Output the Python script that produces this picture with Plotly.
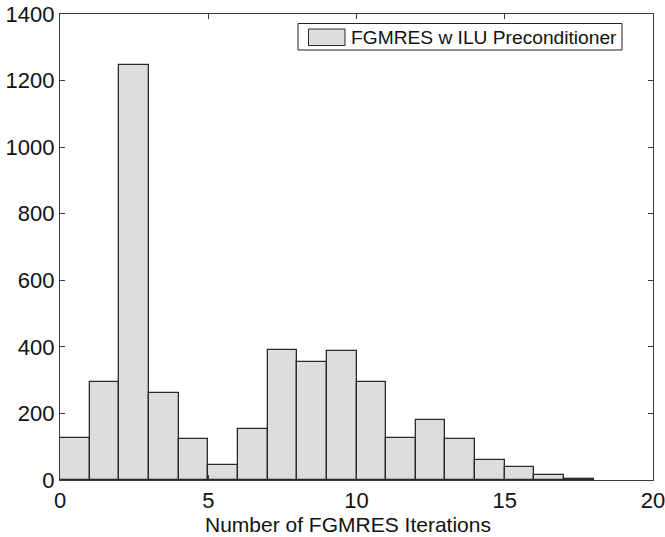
import plotly.graph_objects as go

bin_left = list(range(18))
counts = [126, 295, 1247, 262, 124, 46, 154, 391, 354, 388, 293, 127, 180, 123, 59, 38, 15, 3]
x_ticks = [0, 5, 10, 15, 20]
y_ticks = [0, 200, 400, 600, 800, 1000, 1200, 1400]
legend_label = "FGMRES w ILU Preconditioner"
x_title = "Number of FGMRES Iterations"

FONT = "Liberation Sans, Arial, Helvetica, sans-serif"
AX = "#3a3a3a"

# plot area in pixels: x 60..653, y 14..480
PL, PR, PT, PB = 60, 653, 14, 480
def px(X):
    return (X - PL) / (PR - PL)
def py(Y):
    return (PB - Y) / (PB - PT)

fig = go.Figure()
fig.add_trace(go.Bar(
    x=[b + 0.5 for b in bin_left], y=counts, width=1,
    marker=dict(color="#dddddd", line=dict(color="#2a2a2a", width=1.3)),
    name=legend_label, showlegend=False,
))

fig.update_layout(
    width=665, height=537,
    margin=dict(l=PL, r=665 - PR, t=PT, b=537 - PB),
    paper_bgcolor="white", plot_bgcolor="white",
    font=dict(family=FONT, size=20, color="#111"),
    bargap=0,
    xaxis=dict(range=[0, 20], tickvals=x_ticks, ticks="inside", ticklen=5, tickcolor=AX,
               showline=True, linecolor=AX, linewidth=1.3, mirror="ticks", showgrid=False,
               zeroline=False, tickfont=dict(size=22), automargin=False,
               ticklabeloverflow="allow"),
    yaxis=dict(range=[0, 1400], tickvals=y_ticks, ticks="inside", ticklen=5, tickcolor=AX,
               showline=True, linecolor=AX, linewidth=1.3, mirror="ticks", showgrid=False,
               zeroline=False, tickfont=dict(size=22), automargin=False),
)

# x-axis title
fig.add_annotation(xref="paper", yref="paper", x=px(348), y=py(511),
                   xanchor="center", yanchor="top", showarrow=False,
                   text=x_title, font=dict(size=21, family=FONT, color="#111"))

# legend box
fig.add_shape(type="rect", xref="paper", yref="paper",
              x0=px(298), x1=px(622), y0=py(50), y1=py(23.5),
              line=dict(color="#222", width=1), fillcolor="white")
fig.add_shape(type="rect", xref="paper", yref="paper",
              x0=px(308.5), x1=px(345), y0=py(45.5), y1=py(29),
              line=dict(color="#2a2a2a", width=1), fillcolor="#dddddd")
fig.add_annotation(xref="paper", yref="paper", x=px(349), y=py(37.5),
                   xanchor="left", yanchor="middle", showarrow=False,
                   text=legend_label, font=dict(size=19.2, family=FONT, color="#111"))

fig.write_html("out.html")
